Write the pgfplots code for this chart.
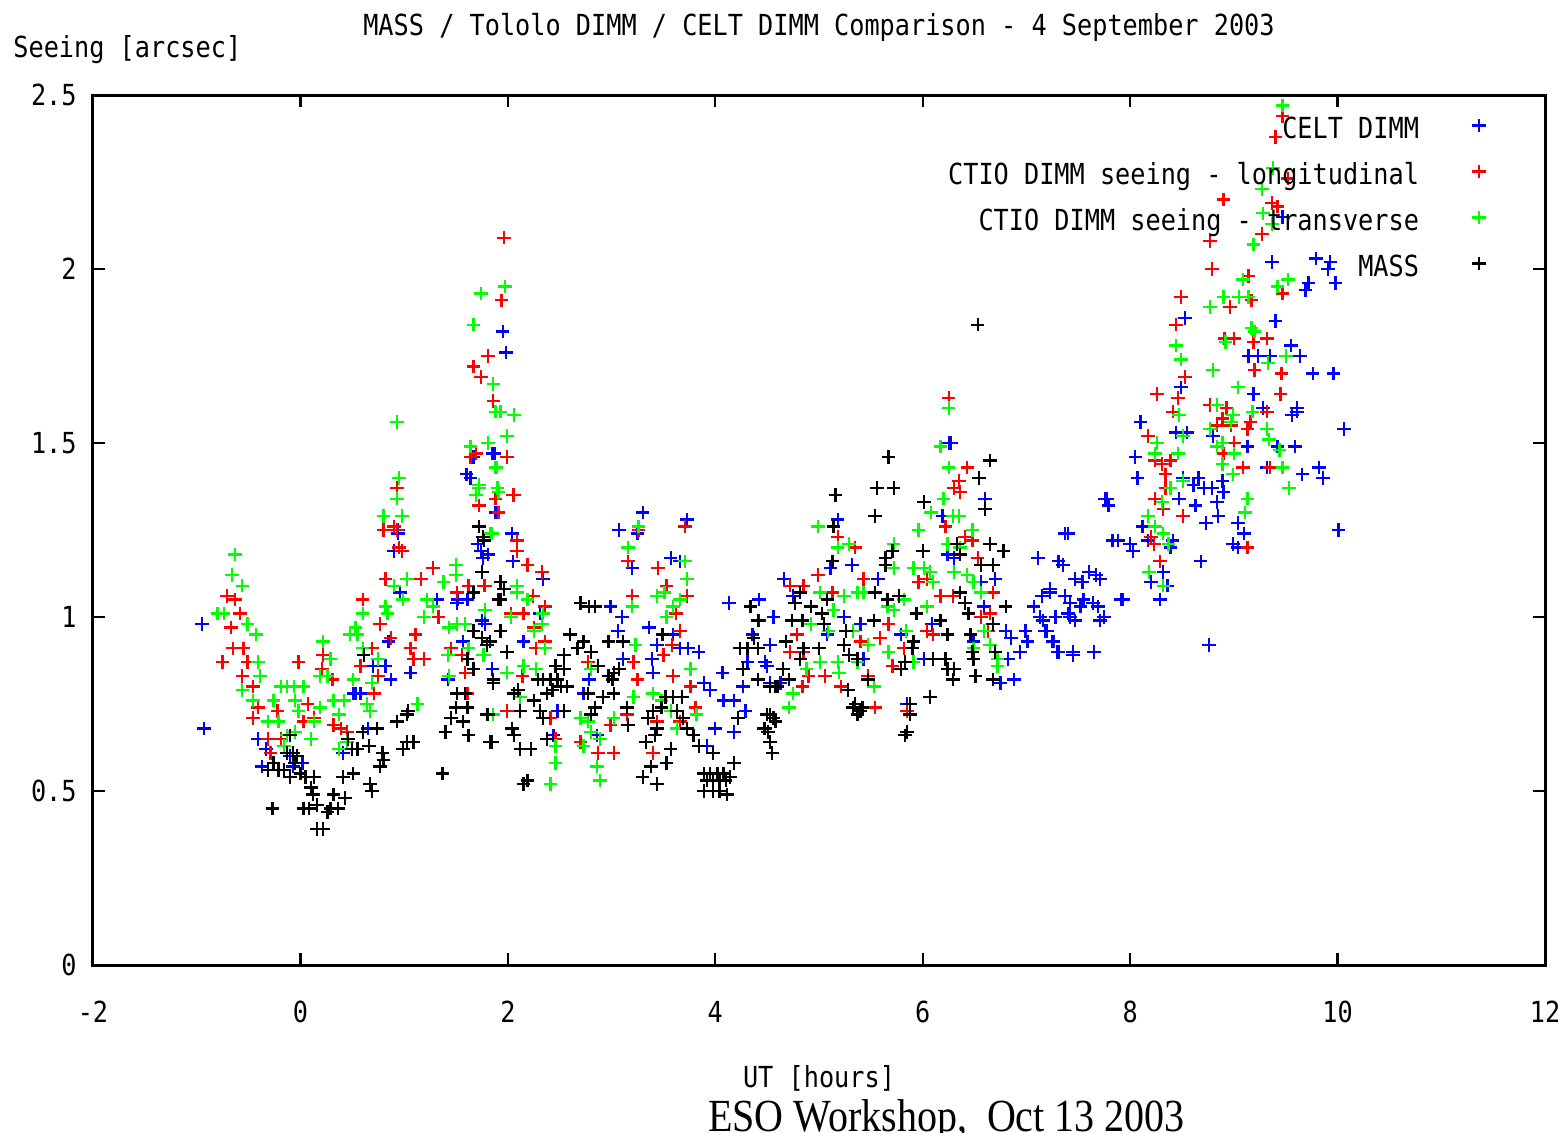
\documentclass[border=0pt]{standalone}
\usepackage{fontspec}
\usepackage{pgfplots}
\pgfplotsset{compat=1.18}
\newfontfamily\gpfam[FakeStretch=0.87]{DejaVu Sans Mono}
\newcommand{\gpfont}{\gpfam\fontsize{14.5}{17}\selectfont}
\newfontfamily\serifnote{Liberation Serif}
\definecolor{gpblue}{RGB}{0,0,255}
\definecolor{gpred}{RGB}{255,0,0}
\definecolor{gpgreen}{RGB}{0,255,0}
\begin{document}
\begin{tikzpicture}
\path[use as bounding box] (-46.5pt,-83.5pt) rectangle (735.5pt,482.5pt);
\begin{axis}[
  scale only axis, width=726pt, height=435pt,
  xmin=-2, xmax=12, ymin=0, ymax=2.5,
  xtick={-2,0,...,12}, ytick={0,0.5,...,2.5},
  axis line style={line width=1.5pt},
  major tick style={line width=1.2pt, black},
  major tick length=6pt, tick align=inside,
  /pgf/number format/assume math mode=true,
  every tick label/.append style={font=\gpfont},
  xticklabel style={anchor=base, inner sep=0pt, yshift=-28.5pt},
  yticklabel style={anchor=east, inner sep=0pt, xshift=-8pt},
  legend style={at={(axis description cs:0.9635,0.979)}, anchor=north east,
    draw=none, fill=none, font=\gpfont, row sep=9.3pt,
    nodes={inner sep=0pt, text height=10.4pt, text depth=3.3pt},
    /tikz/every odd column/.append style={column sep=26.5pt}},
  legend plot pos=right, legend cell align=right,
  legend image code/.code={\draw[#1] plot coordinates {(0pt,3pt)};},
  every axis plot/.append style={only marks, mark=+, mark size=3.4pt, line width=1.15pt},
]
% CELT DIMM
\addplot[gpblue] coordinates {
(-0.95,0.98) (-0.93,0.68)
(-0.41,0.65) (-0.37,0.57) (-0.33,0.62) (-0.07,0.57) (-0.1,0.6) (0.02,0.58)
(0.41,0.61) (0.51,0.78) (0.53,0.78) (0.58,0.78) (0.65,0.68) (0.7,0.86) (0.82,0.86) (0.87,0.82) (0.85,0.93) (0.96,1.07) (0.94,1.25) (0.9,1.19) (1.06,0.84) (1.32,1.05) (1.42,0.82) (1.51,1.04) (1.52,1.05) (1.57,0.93) (1.61,1.05) (1.71,1.21) (1.76,1.17) (1.75,0.99) (1.78,0.98) (1.85,0.85) (1.74,1.19) (1.81,1.18)
(1.6,1.41) (1.64,1.40) (1.67,1.46) (1.85,1.47) (1.87,1.47) (1.95,1.82) (1.98,1.76) (1.91,1.30) (1.88,1.30) (0.94,1.24)
(2.04,1.24) (2.05,1.16) (2.34,1.11) (2.31,1.01) (2.15,0.93)
(3.3,1.30) (3.07,1.25) (3.25,1.24) (3.2,1.14) (3.57,1.17) (3.66,1.16) (3.73,1.28) (2.99,1.03) (3.1,1.0) (3.36,0.97) (3.44,0.92) (3.4,0.84) (3.39,0.88) (3.06,0.96) (3.11,0.88) (3.59,0.95) (3.66,0.91) (3.74,0.91) (3.84,0.9) (4.13,1.04) (4.07,0.84) (3.89,0.81) (3.95,0.79) (4.08,0.76) (4.18,0.76) (4.27,0.8) (4.29,0.73) (4.0,0.68) (4.18,0.67) (3.92,0.63) (2.78,0.82) (2.73,0.78) (2.48,0.73) (2.44,0.66) (2.86,0.66)
(4.42,1.05) (4.42,0.99) (4.56,1.0) (4.36,0.95) (4.53,0.92) (4.48,0.87) (4.31,0.87) (4.53,0.81)
(6.27,1.5) (6.25,1.5) (5.18,1.28) (5.11,1.14) (5.32,1.15) (4.66,1.11) (5.57,1.11) (6.6,1.34) (4.5,0.86) (4.63,0.81) (4.75,1.06) (5.24,1.0) (5.4,0.98) (5.08,0.95) (5.43,0.88) (5.79,0.95) (6.01,0.88) (6.09,0.98) (6.24,1.18) (6.3,1.17) (6.19,1.29) (6.56,1.1) (6.7,1.11) (6.59,1.03) (6.49,0.93) (6.8,0.96) (6.85,0.94) (6.82,0.88) (6.75,0.81) (6.88,0.82) (6.94,0.9) (7.01,0.93) (6.99,0.96) (7.07,1.03) (7.16,0.99) (7.15,1.06) (7.23,1.07) (7.11,1.17) (7.31,1.16) (7.2,0.96) (7.26,0.93) (7.3,0.9) (5.85,0.73) (5.85,0.75)
(7.37,1.06) (7.52,1.03) (7.67,1.12) (7.71,0.99) (7.45,0.9) (7.65,0.9) (7.4,1.01) (7.47,1.11) (7.37,1.24) (7.76,1.34) (7.93,1.05)
(8.49,1.66) (9.19,1.64) (9.28,1.6) (9.61,1.59) (9.56,1.58) (10.06,1.54) (8.1,1.56) (8.44,1.53) (8.55,1.53) (8.8,1.52) (9.42,1.49) (9.59,1.49) (9.13,1.49) (8.05,1.46) (8.07,1.4) (8.51,1.4) (8.66,1.4) (8.61,1.38) (8.71,1.37) (8.79,1.37) (8.89,1.39) (8.9,1.36) (8.84,1.33) (8.47,1.34) (8.63,1.32) (8.85,1.29) (8.73,1.27) (9.04,1.27) (9.1,1.24) (8.99,1.21) (9.04,1.2) (9.32,1.43) (9.66,1.41) (9.82,1.43) (9.86,1.4) (10.01,1.25) (7.78,1.34) (7.79,1.32) (7.4,1.24) (7.83,1.22) (7.88,1.22) (8.0,1.21) (8.03,1.19) (8.12,1.26) (8.17,1.22) (8.41,1.22) (8.39,1.2) (8.68,1.16) (8.32,1.13) (8.2,1.1) (8.36,1.09) (8.29,1.05) (8.76,0.92) (7.35,1.15) (7.6,1.13) (7.71,1.11) (7.54,1.1) (7.23,1.08) (7.55,1.05) (7.42,1.04) (7.64,1.04) (7.69,1.03) (7.75,1.0) (7.91,1.05) (7.28,1.0) (7.42,1.0) (7.47,0.99) (7.13,1.0) (7.18,0.96) (7.25,0.93) (7.31,0.9) (7.45,0.89) (7.65,0.9)
(9.47,2.15) (9.37,2.02) (9.79,2.03) (9.93,2.02) (9.91,2.0) (9.72,1.96) (9.69,1.94) (9.98,1.96) (8.53,1.86) (9.4,1.85) (9.55,1.78) (9.64,1.75) (9.14,1.75) (9.23,1.75) (9.35,1.75) (9.76,1.7) (9.96,1.7) (9.61,1.6)
};
\addlegendentry{CELT DIMM}
% CTIO DIMM, longitudinal
\addplot[gpred] coordinates {
(-0.71,1.06) (-0.63,1.05) (-0.58,1.01) (-0.67,0.97) (-0.65,0.91) (-0.55,0.91) (-0.51,0.87) (-0.75,0.87) (-0.56,0.83) (-0.46,0.8) (-0.41,0.74) (-0.46,0.71) (-0.22,0.73) (-0.31,0.65) (-0.19,0.65) (-0.29,0.61) (-0.02,0.87) (0.07,0.75) (0.13,0.71) (0.03,0.7) (0.22,0.89) (0.21,0.85) (0.31,0.82) (0.32,0.69) (0.39,0.68) (0.45,0.67) (0.6,1.05) (0.77,0.98) (0.58,0.86) (0.69,0.91) (0.87,0.94) (0.75,0.83) (0.71,0.78) (0.82,1.11) (0.8,1.25) (0.93,1.25) (0.95,1.2) (0.98,1.19) (1.06,0.91) (1.11,0.95) (1.16,1.11) (1.09,0.88) (1.19,0.88) (1.28,1.14) (1.33,1.0) (1.51,1.07) (1.62,1.09) (1.78,1.09) (1.45,0.91) (1.56,0.89) (1.59,0.84) (1.61,0.78) (1.86,0.81)
(0.93,1.37) (0.9,1.26) (1.64,1.46) (1.69,1.47) (1.72,1.32) (1.88,1.34) (1.86,1.62)
(1.96,2.09) (1.94,1.91) (1.81,1.75) (1.67,1.72) (1.74,1.69) (1.99,1.46) (2.06,1.35) (1.91,1.3)
(2.05,1.35) (2.09,1.22) (2.09,1.19) (2.19,1.15) (2.33,1.13) (1.77,1.09) (2.24,1.06) (2.36,1.03) (2.03,1.01) (2.15,1.01) (2.25,0.97) (2.27,0.91) (2.36,0.93) (2.14,0.83) (1.99,0.73) (2.41,0.71) (2.46,0.65) (3.2,1.06) (3.16,1.16) (3.26,1.25) (3.71,1.26) (3.45,1.14) (3.53,1.09) (3.73,1.06) (3.62,1.01) (3.66,0.96) (3.58,0.92) (3.5,0.89) (3.21,0.87) (3.25,0.82) (3.59,0.83) (3.76,0.8) (2.77,0.87) (3.15,0.72) (2.99,0.69) (2.7,0.64) (2.87,0.61) (3.02,0.61) (3.4,0.61) (3.44,0.7) (3.66,0.7) (3.81,0.74)
(6.43,1.43) (6.35,1.39) (6.3,1.37) (6.36,1.36) (5.18,1.23) (5.35,1.2) (6.22,1.26) (6.41,1.23) (6.48,1.22) (6.53,1.17) (4.99,1.12) (4.85,1.09) (4.72,1.09) (5.13,1.07) (5.43,1.11) (5.67,0.98) (5.59,0.94) (5.96,1.1) (6.04,1.11) (6.29,1.06) (6.68,1.07) (6.65,1.01) (6.56,1.0) (6.63,0.96) (6.04,0.96) (6.1,0.95) (4.79,0.95) (4.85,0.9) (4.72,0.9) (5.4,0.93) (5.71,0.86) (5.82,0.91) (4.9,0.83) (5.06,0.83) (5.21,0.8) (4.84,0.8) (5.47,0.83) (5.54,0.74) (5.85,0.73) (6.17,1.06) (6.25,1.63)
(8.26,1.64) (8.46,1.63) (9.45,1.64) (8.77,1.61) (8.93,1.6) (8.89,1.57) (9.32,1.59) (8.84,1.55) (9.16,1.56) (8.97,1.55) (9.13,1.54) (8.41,1.59) (8.17,1.52) (9.0,1.5) (8.24,1.45) (8.31,1.44) (8.39,1.45) (8.34,1.41) (8.9,1.47) (9.09,1.43) (9.35,1.43) (8.34,1.37) (8.24,1.34) (8.32,1.31) (8.51,1.29) (8.2,1.23) (8.23,1.21) (8.29,1.16) (9.13,1.2)
(9.47,2.44) (9.4,2.38) (9.52,2.26) (8.9,2.2) (9.37,2.19) (9.42,2.18) (9.27,2.1) (8.77,2.08) (8.79,2.0) (9.14,1.98) (9.47,1.93) (8.49,1.92) (9.17,1.91) (8.96,1.89) (8.44,1.84) (8.91,1.8) (9.0,1.8) (9.32,1.8) (9.19,1.79) (8.53,1.69) (9.2,1.71) (9.46,1.7)
};
\addlegendentry{CTIO DIMM seeing - longitudinal}
% CTIO DIMM, transverse
\addplot[gpgreen] coordinates {
(-0.63,1.18) (-0.66,1.12) (-0.56,1.09) (-0.74,1.01) (-0.8,1.01) (-0.51,0.98) (-0.43,0.95) (-0.41,0.87) (-0.39,0.83) (-0.56,0.79) (-0.46,0.76) (-0.19,0.8) (-0.13,0.8) (0.03,0.8) (-0.06,0.8) (-0.26,0.76) (-0.31,0.7) (-0.21,0.7) (-0.05,0.76) (-0.02,0.73) (-0.13,0.66) (-0.05,0.67) (-0.16,0.63) (0.13,0.7) (0.1,0.65) (0.19,0.74) (0.22,0.93) (0.29,0.88) (0.19,0.83) (0.26,0.83) (0.32,0.76) (0.42,0.76) (0.37,0.72) (0.37,0.62) (0.45,0.64) (0.51,0.82) (0.48,0.95) (0.55,0.95) (0.6,0.91) (0.53,0.97) (0.6,1.01) (0.69,0.81) (0.64,0.75) (0.67,0.73) (0.75,0.88) (0.82,1.03) (0.84,1.01) (0.99,1.05) (1.03,1.11) (0.9,1.09) (1.13,0.75) (1.22,1.05) (1.28,1.03) (1.38,1.1) (1.19,1.0) (1.43,0.97) (1.51,0.98) (1.59,0.98) (1.5,1.15) (1.5,1.12) (1.42,0.89) (1.43,0.83) (1.62,0.91) (1.76,0.89) (1.83,1.24) (1.86,0.72) (1.78,1.02)
(0.93,1.56) (0.95,1.4) (0.93,1.34) (0.98,1.29) (0.8,1.29) (1.64,1.49) (1.81,1.5) (1.88,1.43) (1.72,1.37) (1.69,1.35) (1.9,1.37) (1.88,1.59) (1.86,1.67)
(1.97,1.95) (1.74,1.93) (1.67,1.84) (1.93,1.59) (2.06,1.58) (1.99,1.52) (1.89,1.43) (1.72,1.38) (1.91,1.36)
(1.85,1.24) (2.09,1.09) (2.09,1.07) (2.19,1.05) (2.34,1.01) (2.03,1.0) (2.25,0.96) (2.33,0.98) (2.36,0.91) (2.15,0.86) (1.99,0.84) (2.27,0.85) (1.77,0.89) (2.12,0.77) (2.46,0.63) (2.46,0.58) (2.41,0.52) (3.16,1.2) (3.26,1.26) (3.2,1.03) (3.23,0.92) (3.44,1.06) (3.51,1.07) (3.59,1.03) (3.53,1.0) (3.71,1.16) (3.73,1.11) (3.66,1.05) (3.76,0.85) (3.21,0.77) (3.4,0.78) (3.48,0.76) (3.57,0.73) (3.63,0.68) (3.82,0.72) (2.7,0.71) (2.77,0.7) (2.8,0.67) (2.73,0.63) (2.89,0.65) (2.86,0.57) (2.89,0.53) (3.02,0.71) (2.8,0.85)
(6.17,1.49) (6.25,1.43) (4.99,1.26) (5.18,1.2) (5.29,1.21) (5.96,1.25) (6.2,1.34) (6.08,1.3) (6.29,1.29) (6.35,1.29) (6.48,1.25) (6.24,1.21) (6.36,1.2) (5.72,1.21) (5.72,1.14) (5.91,1.14) (6.01,1.14) (6.07,1.13) (6.3,1.13) (6.43,1.12) (6.49,1.1) (6.1,1.1) (6.56,1.07) (5.43,1.07) (5.37,1.07) (5.24,1.06) (5.01,1.07) (5.14,1.02) (5.66,1.03) (5.82,1.05) (5.72,1.02) (6.04,1.03) (4.74,0.99) (4.92,0.98) (5.09,0.96) (5.33,0.96) (5.47,0.92) (5.84,0.96) (6.59,0.96) (6.49,0.91) (6.65,0.92) (6.72,0.88) (6.72,0.86) (4.82,0.88) (5.01,0.87) (5.18,0.87) (5.37,0.87) (5.67,0.9) (5.19,0.84) (4.88,0.85) (5.53,0.8) (5.91,0.87) (4.75,0.78) (4.71,0.74) (6.25,1.6)
(9.04,1.66) (8.84,1.61) (8.47,1.58) (8.99,1.58) (9.18,1.59) (8.51,1.52) (8.77,1.54) (8.97,1.56) (9.32,1.54) (9.34,1.51) (9.44,1.48) (8.89,1.5) (8.84,1.49) (9.0,1.47) (8.26,1.5) (8.24,1.47) (8.46,1.47) (8.89,1.44) (8.99,1.41) (9.47,1.43) (9.53,1.37) (8.51,1.39) (8.39,1.37) (9.13,1.34) (9.11,1.3) (8.31,1.33) (8.17,1.29) (8.24,1.26) (8.32,1.24) (8.37,1.21) (8.18,1.13) (8.32,1.09)
(9.47,2.47) (9.38,2.29) (9.27,2.23) (9.28,2.16) (9.37,2.13) (9.19,2.07) (9.09,1.97) (9.42,1.95) (9.52,1.97) (8.9,1.92) (9.05,1.92) (9.14,1.92) (8.77,1.89) (9.17,1.83) (9.2,1.82) (8.92,1.79) (8.44,1.78) (8.49,1.74) (9.33,1.73) (9.5,1.75) (8.8,1.71)
};
\addlegendentry{CTIO DIMM seeing - transverse}
% MASS
\addplot[black] coordinates {
(1.72,1.26) (1.76,1.23) (1.67,1.07) (1.75,1.13) (1.67,0.96) (1.75,0.94) (1.8,0.92) (1.61,0.88) (1.67,0.85) (1.86,0.81) (1.51,0.78) (1.59,0.78) (1.61,0.74) (1.5,0.74) (1.45,0.71) (1.57,0.7) (1.4,0.67) (1.62,0.66) (1.8,0.72) (1.83,0.64) (1.37,0.55) (1.03,0.72) (0.93,0.7) (1.03,0.64) (1.09,0.64) (0.99,0.62) (0.8,0.59) (0.77,0.57) (0.67,0.52) (0.69,0.5) (0.55,0.62) (0.51,0.55) (0.6,0.67) (0.46,0.65) (0.41,0.54) (0.32,0.49) (0.43,0.48) (0.36,0.45) (0.29,0.45) (0.16,0.46) (0.08,0.45) (0.03,0.45) (0.26,0.44) (0.22,0.39) (0.16,0.39) (0.12,0.49) (0.1,0.51) (0.13,0.54) (0.05,0.54) (0.0,0.55) (-0.1,0.54) (-0.16,0.56) (-0.21,0.56) (-0.31,0.56) (-0.26,0.58) (-0.13,0.61) (-0.07,0.61) (-0.03,0.6) (-0.1,0.66) (-0.05,0.58) (-0.27,0.45) (0.5,0.62) (0.61,0.89) (0.74,0.68) (0.66,0.63) (0.79,0.61) (1.04,0.73) (1.91,1.05)
(1.77,1.22) (1.93,1.1) (1.96,1.08) (1.93,1.05) (1.93,0.96) (1.83,0.93) (1.99,0.9) (1.86,0.82) (1.81,0.72) (2.12,0.73) (2.1,0.79) (2.06,0.78) (2.25,0.76) (2.31,0.73) (2.34,0.71) (2.29,0.82) (2.34,0.82) (2.41,0.82) (2.48,0.82) (2.43,0.79) (2.51,0.8) (2.57,0.8) (2.46,0.86) (2.54,0.85) (2.6,0.95) (2.7,1.04) (2.78,1.03) (2.84,1.03) (2.67,0.91) (2.73,0.93) (2.8,0.9) (2.97,0.93) (3.11,0.93) (2.54,0.89) (2.87,0.86) (2.97,0.83) (3.02,0.84) (3.07,0.85) (3.01,0.82) (3.02,0.78) (2.92,0.77) (2.84,0.74) (2.77,0.78) (2.38,0.78) (2.54,0.73) (2.8,0.72) (3.15,0.74) (3.16,0.69) (3.35,0.71) (3.4,0.73) (3.48,0.74) (3.52,0.77) (3.59,0.77) (3.68,0.77) (3.63,0.73) (3.69,0.71) (3.73,0.68) (3.79,0.66) (3.84,0.63) (3.44,0.68) (3.42,0.66) (3.33,0.64) (3.57,0.62) (3.53,0.58) (3.38,0.57) (3.3,0.54) (3.44,0.52) (3.49,0.95) (3.98,0.61) (4.18,0.58) (3.89,0.55) (3.95,0.55) (4.02,0.55) (4.08,0.55) (3.92,0.53) (3.98,0.53) (4.04,0.53) (4.1,0.53) (3.89,0.5) (3.98,0.5) (4.04,0.5) (4.11,0.49) (4.14,0.54) (1.85,0.64) (2.12,0.62) (2.22,0.62) (2.19,0.53) (2.15,0.52) (2.04,0.68) (2.06,0.66) (2.38,0.65) (4.34,1.03) (4.41,0.99) (4.37,0.94) (4.31,0.91) (4.24,0.91) (4.41,0.91) (4.27,0.85) (4.41,0.82) (4.53,0.8) (4.5,0.72) (4.56,0.71) (4.47,0.68) (4.51,0.67) (4.53,0.64) (4.55,0.61) (4.22,0.71) (4.58,0.8)
(5.67,1.46) (6.65,1.45) (6.54,1.4) (5.56,1.37) (5.72,1.37) (5.16,1.35) (6.01,1.33) (6.6,1.31) (5.54,1.29) (5.14,1.26) (6.65,1.21) (6.78,1.19) (6.0,1.19) (6.33,1.21) (5.71,1.19) (5.64,1.17) (5.64,1.15) (5.13,1.16) (6.56,1.15) (6.68,1.15) (6.36,1.18) (4.82,1.07) (4.77,1.04) (4.92,1.03) (4.74,0.99) (4.84,0.99) (5.05,0.98) (5.03,1.01) (5.08,1.05) (4.68,0.93) (4.85,0.91) (5.0,0.91) (4.82,0.88) (5.26,0.96) (5.24,0.92) (5.29,0.89) (5.37,0.88) (5.28,0.79) (5.47,0.82) (5.53,0.99) (5.66,1.05) (5.77,1.06) (5.54,1.07) (5.94,1.01) (6.17,0.99) (6.36,1.07) (6.41,1.04) (6.44,1.01) (6.46,0.95) (6.24,0.95) (5.91,0.93) (5.9,0.91) (5.83,0.87) (5.79,0.85) (6.1,0.88) (6.22,0.88) (6.24,0.85) (6.29,0.82) (6.3,0.85) (6.48,0.9) (6.49,0.88) (6.51,0.83) (6.7,0.9) (6.68,0.82) (6.8,1.03) (6.68,0.98) (6.07,0.77) (5.33,0.74) (5.4,0.73) (5.37,0.72) (5.42,0.74) (5.35,0.75) (5.88,0.75) (5.88,0.72) (5.85,0.67) (5.83,0.66) (4.53,0.72) (4.58,0.7) (4.48,0.68) (4.53,0.64) (4.55,0.61) (4.6,0.8) (4.65,0.85) (4.71,0.82) (6.53,1.84)
};
\addlegendentry{MASS}
\end{axis}
% titles and axis labels
\node[font=\gpfont, anchor=base] at (363pt,464.5pt) {MASS / Tololo DIMM / CELT DIMM Comparison - 4 September 2003};
\node[font=\gpfont, anchor=base west, inner sep=0pt] at (-40pt,453.5pt) {Seeing [arcsec]};
\node[font=\gpfont, anchor=base, inner sep=0pt] at (363pt,-61pt) {UT [hours]};
\node[font=\serifnote\fontsize{20}{24}\selectfont, anchor=base, inner sep=0pt, transform shape, yscale=1.15] at (426.75pt,-83pt) {ESO Workshop,\ \ Oct 13 2003};
\end{tikzpicture}
\end{document}
